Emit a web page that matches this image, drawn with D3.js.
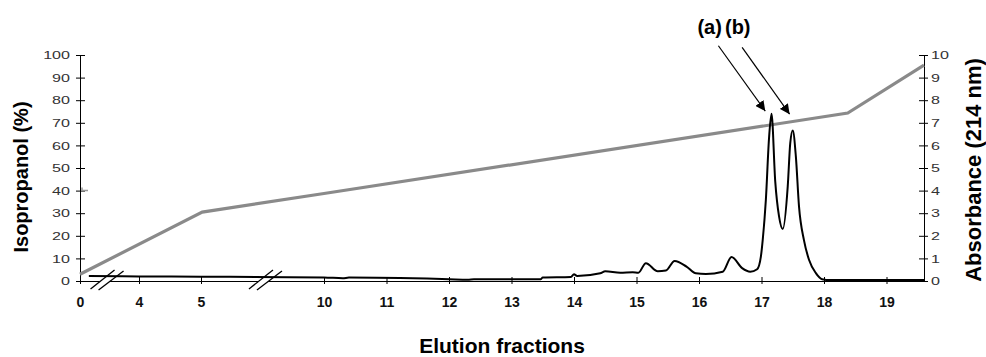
<!DOCTYPE html>
<html>
<head>
<meta charset="utf-8">
<script src="https://cdn.jsdelivr.net/npm/d3@7"></script>
<style>
  body { margin: 0; background: #fff; }
  svg { font-family: "Liberation Sans", Arial, sans-serif; }
</style>
</head>
<body>
<svg id="chart" width="986" height="357"></svg>
<script>
// x tick labels (elution fractions, axis is broken after 0 and after 5)
const fractionTicks = [0, 4, 5, 10, 11, 12, 13, 14, 15, 16, 17, 18, 19]
const axisBreaks = [1.8, 7.6]

// isopropanol gradient (%), gray line
const isoFraction = [0, 5.05, 10, 18.38, 19.6]
const isoPercent = [3, 30.5, 38.7, 74.3, 95.5]

// absorbance at 214 nm, black trace
const absFraction = [0.6, 4, 5, 10, 10.3, 10.4, 12, 12.3, 12.4, 13.47, 13.5, 13.95, 14, 14.05,
  14.42, 14.5, 14.74, 14.94, 15.03, 15.15, 15.34, 15.47, 15.61, 15.8, 15.95, 16.11, 16.38,
  16.52, 16.69, 16.82, 16.93, 16.99, 17.02, 17.07, 17.12, 17.16, 17.22, 17.28, 17.34, 17.42,
  17.46, 17.5, 17.55, 17.6, 17.68, 17.76, 17.87, 17.97, 18.1, 19.6]
const absValue = [0.22, 0.2, 0.19, 0.16, 0.12, 0.15, 0.08, 0.06, 0.08, 0.08, 0.16, 0.18, 0.3, 0.22,
  0.34, 0.43, 0.37, 0.39, 0.37, 0.79, 0.43, 0.46, 0.89, 0.64, 0.34, 0.31, 0.41,
  1.06, 0.57, 0.41, 0.52, 1.08, 1.83, 3.6, 6.3, 7.4, 4.4, 2.87, 2.3, 4.2,
  6.1, 6.66, 5.5, 3.3, 1.8, 0.94, 0.35, 0.08, 0.04, 0.04]

// peak labels and arrows [fraction, absorbance]
const peakLabels = ['(a)', '(b)']
const labelPos = [[16.17, 10.93], [16.62, 10.93]]
const arrowFrom = [[16.31, 10.41], [16.69, 10.34]]
const arrowTo = [[17.06, 7.52], [17.45, 7.38]]

const svg = d3.select('#chart')
const plotTop = 55
const plotBottom = 281
const plotLeft = 80
const plotRight = 924

// piecewise scale because of the axis breaks
const x = d3.scaleLinear()
  .domain([0, 4, 5, 10, 19.6])
  .range([plotLeft, 139, 201, 324, plotRight])
const yIso = d3.scaleLinear().domain([0, 100]).range([plotBottom, plotTop])
const yAbs = d3.scaleLinear().domain([0, 10]).range([plotBottom, plotTop])

const stretch = 1.4

// left axis
const gl = svg.append('g')
  .attr('transform', `translate(${plotLeft},0)`)
  .call(d3.axisLeft(yIso).tickValues(d3.range(0, 101, 10)).tickSize(4).tickSizeOuter(0))
gl.select('.domain').attr('stroke', '#000')
gl.selectAll('.tick line').attr('x1', -4).attr('x2', 5).attr('stroke', '#000')
gl.selectAll('.tick text')
  .attr('x', -10 / stretch)
  .attr('transform', `scale(${stretch},1)`)
  .attr('font-size', 11.5)
  .attr('font-family', null)
  .attr('fill', '#333')

// right axis
const gr = svg.append('g')
  .attr('transform', `translate(${plotRight},0)`)
  .call(d3.axisRight(yAbs).tickValues(d3.range(0, 11, 1)).tickSize(4).tickSizeOuter(0))
gr.select('.domain').attr('stroke', '#000')
gr.selectAll('.tick line').attr('x1', -5).attr('x2', 4).attr('stroke', '#000')
gr.selectAll('.tick text')
  .attr('x', 7 / stretch)
  .attr('transform', `scale(${stretch},1)`)
  .attr('font-size', 11.5)
  .attr('font-family', null)
  .attr('fill', '#333')

// bottom axis
const gb = svg.append('g')
  .attr('transform', `translate(0,${plotBottom})`)
  .call(d3.axisBottom(x).tickValues(fractionTicks).tickFormat(d3.format('d')).tickSize(3).tickSizeOuter(0))
gb.select('.domain').attr('stroke', '#000')
gb.selectAll('.tick line').attr('y1', -4).attr('y2', 3).attr('stroke', '#000')
gb.selectAll('.tick text')
  .attr('y', 26)
  .attr('dy', 0)
  .attr('font-size', 14)
  .attr('font-weight', 'bold')
  .attr('font-family', null)
  .attr('fill', '#111')

// axis break marks
axisBreaks.forEach(b => {
  const cx = x(b)
  svg.append('polygon')
    .attr('points', `${cx - 16},${plotBottom + 8} ${cx + 8},${plotBottom - 11} ${cx + 17},${plotBottom - 10} ${cx - 8},${plotBottom + 9}`)
    .attr('fill', '#fff')
  svg.append('line')
    .attr('x1', cx - 16).attr('y1', plotBottom + 8).attr('x2', cx + 8).attr('y2', plotBottom - 11)
    .attr('stroke', '#000').attr('stroke-width', 1.3)
  svg.append('line')
    .attr('x1', cx - 8).attr('y1', plotBottom + 9).attr('x2', cx + 17).attr('y2', plotBottom - 10)
    .attr('stroke', '#000').attr('stroke-width', 1.3)
})

// small gray mark on the left axis at 40 %
svg.append('path')
  .attr('d', `M${plotLeft + 2},${yIso(40) - 3} V${yIso(40)} H${plotLeft + 8}`)
  .attr('fill', 'none')
  .attr('stroke', '#999')
  .attr('stroke-width', 1.5)

// isopropanol line
const isoData = isoFraction.map((f, i) => [f, isoPercent[i]])
svg.append('path')
  .datum(isoData)
  .attr('fill', 'none')
  .attr('stroke', '#8a8a8a')
  .attr('stroke-width', 3.2)
  .attr('d', d3.line().x(d => x(d[0])).y(d => yIso(d[1])))

// absorbance trace
const absData = absFraction.map((f, i) => [f, absValue[i]])
svg.append('path')
  .datum(absData)
  .attr('fill', 'none')
  .attr('stroke', '#000')
  .attr('stroke-width', 2)
  .attr('stroke-linejoin', 'round')
  .attr('d', d3.line().curve(d3.curveMonotoneX).x(d => x(d[0])).y(d => yAbs(d[1])))

// arrows
svg.append('defs').append('marker')
  .attr('id', 'head')
  .attr('viewBox', '0 0 10 10')
  .attr('refX', 10).attr('refY', 5)
  .attr('markerWidth', 10).attr('markerHeight', 10)
  .attr('markerUnits', 'userSpaceOnUse')
  .attr('orient', 'auto')
  .append('path')
  .attr('d', 'M0,0 L10,5 L0,10 Z')
  .attr('fill', '#000')

peakLabels.forEach((t, i) => {
  svg.append('line')
    .attr('x1', x(arrowFrom[i][0])).attr('y1', yAbs(arrowFrom[i][1]))
    .attr('x2', x(arrowTo[i][0])).attr('y2', yAbs(arrowTo[i][1]))
    .attr('stroke', '#000')
    .attr('stroke-width', 1.2)
    .attr('marker-end', 'url(#head)')
  svg.append('text')
    .attr('x', x(labelPos[i][0]))
    .attr('y', yAbs(labelPos[i][1]))
    .attr('text-anchor', 'middle')
    .attr('font-size', 20)
    .attr('font-weight', 'bold')
    .text(t)
})

// axis titles
svg.append('text')
  .attr('transform', 'translate(28,177) rotate(-90)')
  .attr('text-anchor', 'middle')
  .attr('font-size', 20)
  .attr('font-weight', 'bold')
  .text('Isopropanol (%)')

svg.append('text')
  .attr('transform', 'translate(981,170) rotate(-90)')
  .attr('text-anchor', 'middle')
  .attr('font-size', 22)
  .attr('font-weight', 'bold')
  .text('Absorbance (214 nm)')

svg.append('text')
  .attr('x', 502)
  .attr('y', 353)
  .attr('text-anchor', 'middle')
  .attr('font-size', 21)
  .attr('font-weight', 'bold')
  .text('Elution fractions')
</script>
</body>
</html>
